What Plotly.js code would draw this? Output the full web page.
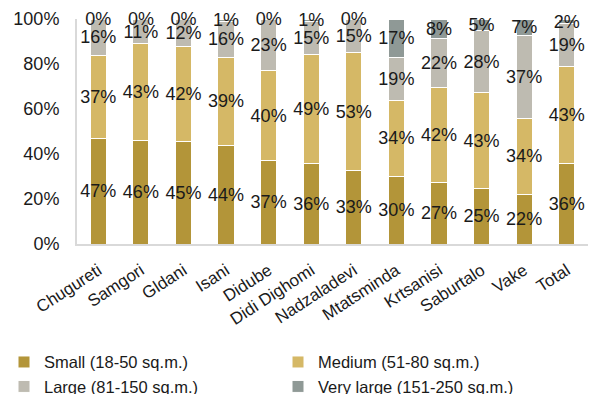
<!DOCTYPE html>
<html>
<head>
<meta charset="utf-8">
<script src="https://cdn.plot.ly/plotly-3.0.1.min.js"></script>
<style>html,body{margin:0;padding:0;background:#fff;}#chart{width:601px;height:394px;}</style>
</head>
<body>
<div id="chart"></div>
<script>
const categories = ["Chugureti","Samgori","Gldani","Isani","Didube","Didi Dighomi","Nadzaladevi","Mtatsminda","Krtsanisi","Saburtalo","Vake","Total"];
const small     = [47.0, 46.0, 45.4, 44.0, 37.0, 35.6, 32.6, 30.0, 27.4, 24.6, 22.0, 36.0];
const medium    = [37.0, 43.0, 42.3, 39.0, 40.0, 48.6, 52.6, 34.0, 42.3, 42.6, 34.0, 43.0];
const large     = [15.7, 10.7, 12.0, 15.9, 22.7, 14.8, 14.5, 18.9, 21.8, 27.6, 36.9, 18.9];
const veryLarge = [0.2, 0.2, 0.2, 1.0, 0.2, 0.8, 0.2, 17.0, 8.4, 5.1, 7.0, 2.0];
const seriesNames = ["Small (18-50 sq.m.)","Medium (51-80 sq.m.)","Large (81-150 sq.m.)","Very large (151-250 sq.m.)"];
const seriesColors = ["#b39539","#d5b866","#bebbb1","#8f9996"];
const legendGroups = ["legend","legend2","legend","legend2"];

const seriesValues = [small, medium, large, veryLarge];
const traces = seriesValues.map((vals, i) => ({
  type: 'bar',
  name: seriesNames[i],
  legend: legendGroups[i],
  x: categories,
  y: vals,
  text: vals.map(v => Math.round(v) + '%'),
  textposition: 'inside',
  insidetextanchor: 'middle',
  constraintext: 'none',
  textangle: 0,
  textfont: {family: 'Liberation Sans, Arial, sans-serif', size: 18, color: '#1a1a1a'},
  cliponaxis: false,
  hoverinfo: 'skip',
  marker: {color: seriesColors[i], line: {color: '#ffffff', width: 1}}
}));

const legendCommon = {
  orientation: 'v',
  xref: 'container', yref: 'container',
  xanchor: 'left', yanchor: 'top',
  font: {size: 16.5, color: '#1a1a1a'},
  traceorder: 'normal',
  itemwidth: 30,
  tracegroupgap: 0,
  bgcolor: 'rgba(0,0,0,0)'
};

const layout = {
  width: 601, height: 394,
  barmode: 'stack',
  bargap: 0.62,
  margin: {l: 77, r: 13, t: 19, b: 150, autoexpand: false},
  paper_bgcolor: '#ffffff',
  plot_bgcolor: '#ffffff',
  font: {family: 'Liberation Sans, Arial, sans-serif', color: '#1a1a1a'},
  yaxis: {
    range: [0, 100.02], tickvals: [0, 20, 40, 60, 80, 100], ticktext: ['0%','20%','40%','60%','80%','100%'],
    showgrid: false, zeroline: false,
    showline: true, linecolor: '#d9d9d9', linewidth: 2,
    tickfont: {size: 18, color: '#1a1a1a'},
    ticklabelstandoff: 12
  },
  xaxis: {
    showgrid: false, showline: true, linecolor: '#d9d9d9', linewidth: 2,
    tickangle: -33,
    tickfont: {size: 17, color: '#1a1a1a'},
    ticklabelstandoff: 8
  },
  legend: Object.assign({}, legendCommon, {x: 4 / 601, y: 0.125}),
  legend2: Object.assign({}, legendCommon, {x: 278 / 601, y: 0.125}),
  showlegend: true
};

Plotly.newPlot('chart', traces, layout, {staticPlot: true, displayModeBar: false});
</script>
</body>
</html>
